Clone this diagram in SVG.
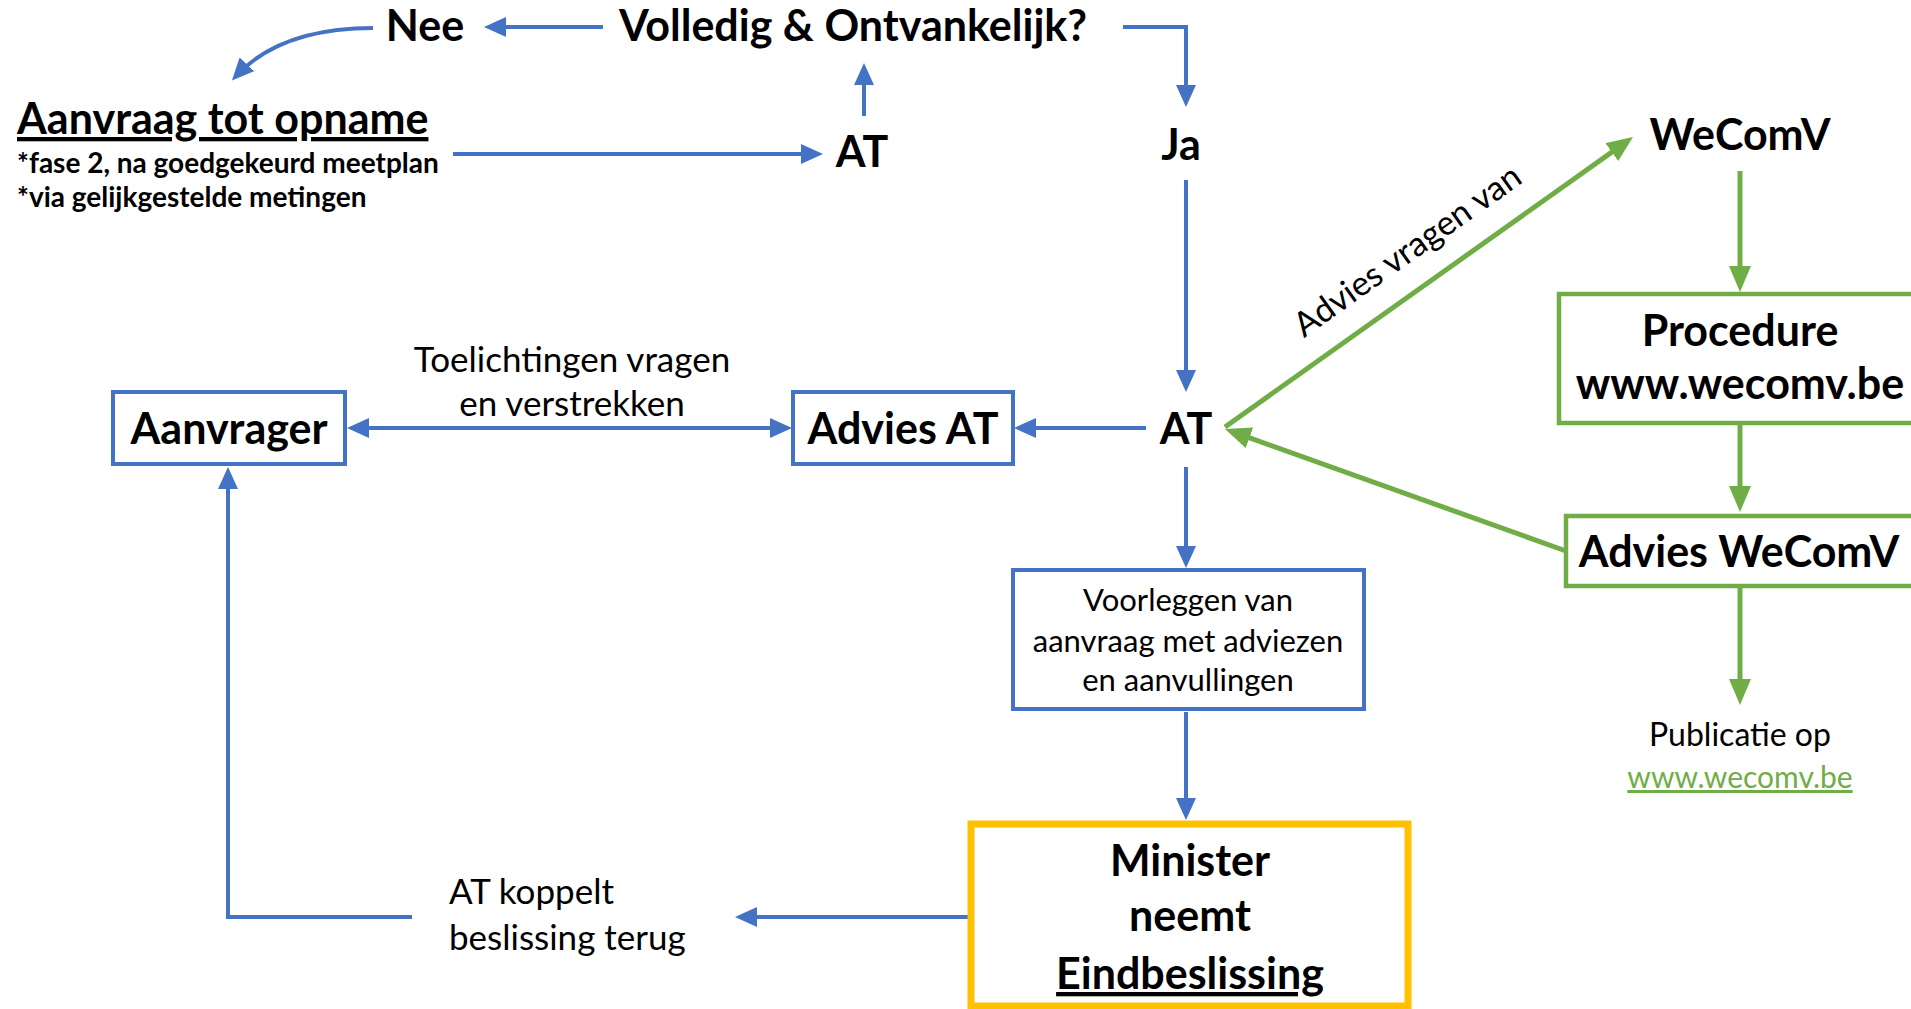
<svg xmlns="http://www.w3.org/2000/svg" width="1911" height="1009" viewBox="0 0 1911 1009">
<style>
text{font-family:Lato,'Liberation Sans',sans-serif;fill:#000}
.b{font-weight:700;font-size:43px}
.s{font-weight:700;font-size:28px}
.r{font-weight:400;font-size:35px}
.t{font-weight:400;font-size:31px}
.c{text-anchor:middle}
.u{text-decoration:underline}
.bl{fill:none;stroke:#4472C4;stroke-width:4}
.gr{fill:none;stroke:#70AD47;stroke-width:5}
.bx{fill:#fff;stroke:#4472C4;stroke-width:4}
.gx{fill:#fff;stroke:#70AD47;stroke-width:4.5}
.yx{fill:#fff;stroke:#FFC000;stroke-width:7}
</style>
<defs>
<marker id="ab" viewBox="0 0 22 20" refX="16" refY="10" markerWidth="22" markerHeight="20" markerUnits="userSpaceOnUse" orient="auto-start-reverse"><path d="M0,0 L22,10 L0,20 z" fill="#4472C4"/></marker>
<marker id="ag" viewBox="0 0 26 22" refX="19" refY="11" markerWidth="26" markerHeight="22" markerUnits="userSpaceOnUse" orient="auto-start-reverse"><path d="M0,0 L26,11 L0,22 z" fill="#70AD47"/></marker>
</defs>
<g id="connectors">
<path class="bl" d="M603,27 L490,27" marker-end="url(#ab)"/>
<path class="bl" d="M373,28 C310,28 265,45 236,76" marker-end="url(#ab)"/>
<path class="bl" d="M453,154 L817,154" marker-end="url(#ab)"/>
<path class="bl" d="M864,116 L864,69" marker-end="url(#ab)"/>
<path class="bl" d="M1123,27 L1186,27 L1186,101" marker-end="url(#ab)"/>
<path class="bl" d="M1186,180 L1186,386" marker-end="url(#ab)"/>
<path class="bl" d="M1146,428 L1020,428" marker-end="url(#ab)"/>
<path class="bl" d="M353,428 L786,428" marker-start="url(#ab)" marker-end="url(#ab)"/>
<path class="bl" d="M1186,467 L1186,562" marker-end="url(#ab)"/>
<path class="bl" d="M1186,712 L1186,814" marker-end="url(#ab)"/>
<path class="bl" d="M971,917 L741,917" marker-end="url(#ab)"/>
<path class="bl" d="M412,917 L228,917 L228,473" marker-end="url(#ab)"/>
<path class="gr" d="M1225,427 L1627.3,141.1" marker-end="url(#ag)"/>
<path class="gr" d="M1740,171 L1740,285" marker-end="url(#ag)"/>
<path class="gr" d="M1740,423 L1740,505" marker-end="url(#ag)"/>
<path class="gr" d="M1566,551 L1231.6,431.4" marker-end="url(#ag)"/>
<path class="gr" d="M1740,586 L1740,698" marker-end="url(#ag)"/>
<text class="c" style="font-size:34px" transform="translate(1414,260) rotate(-35.4)">Advies vragen van</text>
<text class="r c" x="572" y="372">Toelichtingen vragen</text>
<text class="r c" x="572" y="416">en verstrekken</text>
<text class="r" x="449" y="904">AT koppelt</text>
<text class="r" x="449" y="950">beslissing terug</text>
</g>
<g id="nee"><text class="b c" x="425" y="41">Nee</text></g>
<g id="volledig"><text class="b c" x="853" y="41">Volledig &amp; Ontvankelijk?</text></g>
<g id="aanvraag">
<text class="b u" x="17" y="134">Aanvraag tot opname</text>
<text class="s" x="17" y="173">*fase 2, na goedgekeurd meetplan</text>
<text class="s" x="17" y="207">*via gelijkgestelde metingen</text>
</g>
<g id="at-top"><text class="b c" x="862" y="167">AT</text></g>
<g id="ja"><text class="b c" x="1181" y="160">Ja</text></g>
<g id="at-mid"><text class="b c" x="1186" y="444">AT</text></g>
<g id="aanvrager"><rect class="bx" x="113" y="392" width="232" height="72"/><text class="b c" x="229" y="444">Aanvrager</text></g>
<g id="advies-at"><rect class="bx" x="793" y="392" width="220" height="72"/><text class="b c" x="903" y="444">Advies AT</text></g>
<g id="voorleggen"><rect class="bx" x="1013" y="570" width="351" height="139"/>
<text class="t c" x="1188" y="611">Voorleggen  van</text>
<text class="t c" x="1188" y="652">aanvraag met adviezen</text>
<text class="t c" x="1188" y="691">en aanvullingen</text>
</g>
<g id="minister"><rect class="yx" x="971" y="824" width="437" height="182"/>
<text class="b c" x="1190" y="876">Minister</text>
<text class="b c" x="1190" y="931">neemt</text>
<text class="b c u" x="1190" y="989">Eindbeslissing</text>
</g>
<g id="wecomv"><text class="b c" x="1740" y="150">WeComV</text></g>
<g id="procedure"><rect class="gx" x="1559" y="294" width="400" height="129"/>
<text class="b c" x="1740" y="346">Procedure</text>
<text class="b c" x="1740" y="399">www.wecomv.be</text>
</g>
<g id="advies-wecomv"><rect class="gx" x="1566" y="516" width="400" height="70"/><text class="b c" x="1739" y="567">Advies WeComV</text></g>
<g id="publicatie">
<text class="c" style="font-size:32px" x="1740" y="746">Publicatie op</text>
<text class="c u" x="1740" y="788" style="font-size:30px;fill:#70AD47">www.wecomv.be</text>
</g>
</svg>
